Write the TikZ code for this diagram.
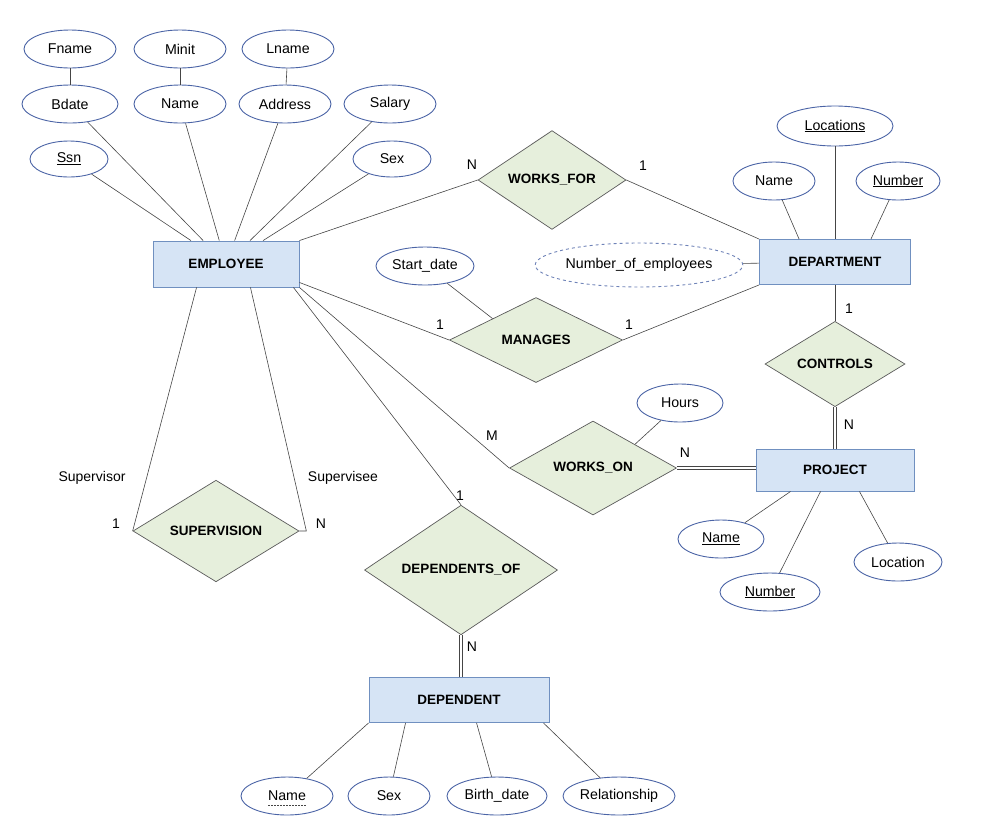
\documentclass[tikz,border=0pt]{standalone}
\usepackage{fontspec}
\setmainfont{Liberation Sans}
\usetikzlibrary{positioning, shapes.geometric}
\definecolor{entFill}{HTML}{D6E4F5}
\definecolor{entLine}{HTML}{7090C0}
\definecolor{relFill}{HTML}{E6EFDC}
\definecolor{relLine}{HTML}{5A5A5A}
\definecolor{attLine}{HTML}{4B64A6}
\definecolor{conLine}{HTML}{454545}

\begin{document}
\begin{tikzpicture}[x=1pt, y=-1pt,
  entity/.style={draw=entLine, fill=entFill, line width=0.9pt,
                 font=\fontsize{13.5}{16}\selectfont\bfseries, inner sep=0pt},
  rel/.style={diamond, draw=relLine, fill=relFill, line width=0.7pt,
              font=\fontsize{13.5}{16}\selectfont\bfseries, inner sep=0pt},
  attr/.style={ellipse, draw=attLine, fill=white, line width=0.9pt,
               font=\fontsize{14.2}{16}\selectfont, inner sep=0pt,
               minimum height=38pt},
  derived/.style={attr, dashed, draw=attLine!80},
  card/.style={font=\fontsize{14}{16}\selectfont, inner sep=1pt},
  role/.style={font=\fontsize{14}{16}\selectfont, inner sep=1pt},
  con/.style={draw=conLine, line width=0.6pt},
  total/.style={draw=conLine, line width=0.6pt, double, double distance=2pt}
]
\useasboundingbox (0,0) rectangle (1000,839);

% entities
\node[entity, minimum width=146pt, minimum height=46pt] (emp)  at (226,264) {EMPLOYEE};
\node[entity, minimum width=151pt, minimum height=45pt] (dept) at (835,262) {DEPARTMENT};
\node[entity, minimum width=158pt, minimum height=42pt] (proj) at (835,470) {PROJECT};
\node[entity, minimum width=180pt, minimum height=45pt] (dep)  at (459,700) {DEPENDENT};

% relationships
\node[rel, minimum width=148pt, minimum height=86pt] (wf)  at (552,180) {WORKS\_FOR};
\node[rel, minimum width=173pt, minimum height=85pt] (mg)  at (536,340) {MANAGES};
\node[rel, minimum width=140pt, minimum height=78pt] (ctl) at (835,364) {CONTROLS};
\node[rel, minimum width=167pt, minimum height=94pt] (wo)  at (593,468) {WORKS\_ON};
\node[rel, minimum width=166pt, minimum height=94pt] (sup) at (216,531) {SUPERVISION};
\node[rel, minimum width=193pt, minimum height=99pt] (dof) at (461,570) {DEPENDENTS\_OF};

% attributes of EMPLOYEE
\node[attr, minimum width=92pt] (fname)  at (70,49)   {Fname};
\node[attr, minimum width=92pt] (minit)  at (180,49)  {Minit};
\node[attr, minimum width=92pt] (lname)  at (288,49)  {Lname};
\node[attr, minimum width=96pt] (bdate)  at (70,104)  {Bdate};
\node[attr, minimum width=92pt] (ename)  at (180,104) {Name};
\node[attr, minimum width=92pt] (addr)   at (285,104) {Address};
\node[attr, minimum width=92pt] (salary) at (390,104) {Salary};
\node[attr, minimum width=78pt, minimum height=36pt] (ssn) at (69,159)  {\underline{Ssn}};
\node[attr, minimum width=78pt, minimum height=36pt] (esex) at (392,159) {Sex};

% attributes of DEPARTMENT
\node[attr, minimum width=116pt, minimum height=40pt] (loc) at (835,126) {\underline{Locations}};
\node[attr, minimum width=82pt] (dname) at (774,181) {Name};
\node[attr, minimum width=84pt] (dnum)  at (898,181) {\underline{Number}};
\node[derived, minimum width=190pt, minimum height=44pt] (noe) at (639,265) {Number\_of\_employees};
\node[attr, minimum width=98pt] (sdate) at (425,266) {Start\_date};

% attributes of PROJECT
\node[attr, minimum width=86pt]  (hours) at (680,403) {Hours};
\node[attr, minimum width=86pt]  (pname) at (721,539) {\underline{Name}};
\node[attr, minimum width=100pt] (pnum)  at (770,592) {\underline{Number}};
\node[attr, minimum width=88pt]  (ploc)  at (898,562) {Location};

% attributes of DEPENDENT
\node[attr, minimum width=92pt]  (dpname) at (287,796) {Name};
\draw[conLine, dashed, dash pattern=on 2pt off 1pt, line width=0.5pt]
  ([shift={(-19,9)}]dpname.center) -- ([shift={(19,9)}]dpname.center);
\node[attr, minimum width=82pt]  (dpsex)  at (389,796) {Sex};
\node[attr, minimum width=100pt] (bdt)    at (497,796) {Birth\_date};
\node[attr, minimum width=112pt] (rel)    at (619,796) {Relationship};

% cardinalities and roles
\node[card] (cwfN)  at (472,165) {N};
\node[card] (cwf1)  at (643,166) {1};
\node[card] (cmg1a) at (440,325) {1};
\node[card] (cmg1b) at (629,325) {1};
\node[card] (cctl1) at (849,309) {1};
\node[card] (cctlN) at (849,425) {N};
\node[card] (cwoM)  at (492,436) {M};
\node[card] (cwoN)  at (685,453) {N};
\node[card] (csup1) at (116,524) {1};
\node[card] (csupN) at (321,524) {N};
\node[card] (cdof1) at (460,496) {1};
\node[card] (cdofN) at (472,647) {N};
\node[role] (rsor) at (92,478)  {Supervisor};
\node[role] (rsee) at (343,478) {Supervisee};

% composite attributes
\draw[con] (fname) -- (bdate);
\draw[con] (minit) -- (ename);
\draw[con] (lname) -- (addr);

% EMPLOYEE attributes
\foreach \a in {ssn, bdate, ename, addr, salary, esex}
  \draw[con] (\a) -- (emp);

% DEPARTMENT attributes
\draw[con] (loc) -- (dept);
\draw[con] (dname) -- ([xshift=40pt]dept.north west);
\draw[con] (dnum) -- ([xshift=-40pt]dept.north east);
\draw[con] (noe) -- (dept);

% relationships
\draw[con] (emp.north east) -- (wf.west);
\draw[con] (wf.east) -- (dept.north west);
\draw[con] ([yshift=5pt]emp.south east) -- (mg.west);
\draw[con] (mg.east) -- (dept.south west);
\draw[con] (sdate) -- (mg.north west);
\draw[con] (dept) -- (ctl);
\draw[total] (ctl) -- (proj);
\draw[con] (emp.south east) -- (wo.west);
\draw[total] (wo.east) -- (wo.east -| proj.west);
\draw[con] (hours) -- (wo.north east);
\draw[con] ([xshift=-6pt]emp.south east) -- (dof.north);
\draw[total] (dof.south) -- (dof.south |- dep.north);
\draw[con] ([xshift=44pt]emp.south west) -- (sup.west);
\draw[con] ([xshift=-49pt]emp.south east) -- ([xshift=7pt]sup.east) -- (sup.east);

% PROJECT attributes
\draw[con] (pname) -- ([xshift=35pt]proj.south west);
\draw[con] (pnum) -- ([xshift=65pt]proj.south west);
\draw[con] (ploc) -- ([xshift=-55pt]proj.south east);

% DEPENDENT attributes
\draw[con] (dpname) -- (dep.south west);
\draw[con] (dpsex) -- ([xshift=37pt]dep.south west);
\draw[con] (bdt) -- ([xshift=108pt]dep.south west);
\draw[con] (rel) -- ([xshift=-6pt]dep.south east);
\end{tikzpicture}
\end{document}
